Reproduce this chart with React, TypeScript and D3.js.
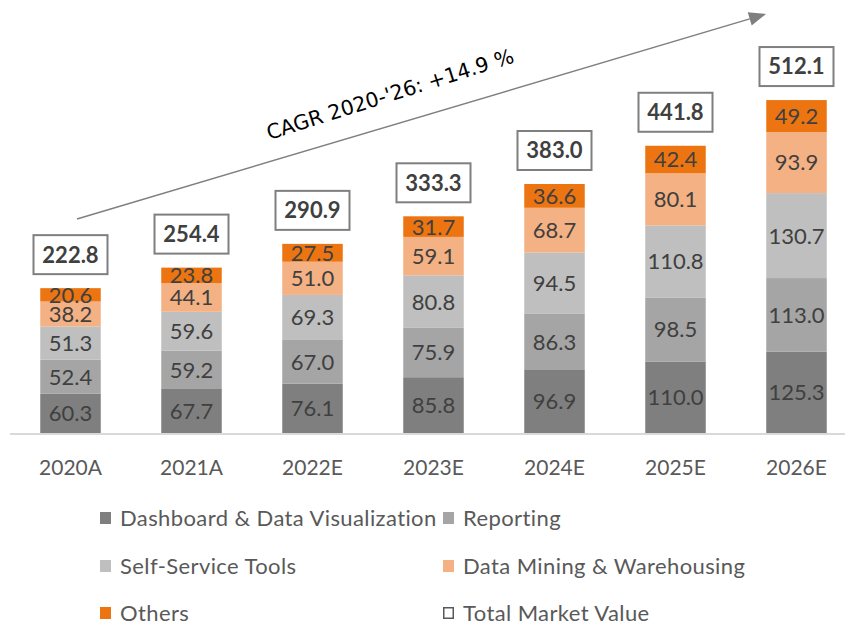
import React from 'react'
import * as d3 from 'd3'

const years = ['2020A', '2021A', '2022E', '2023E', '2024E', '2025E', '2026E']
const dashboard = [60.3, 67.7, 76.1, 85.8, 96.9, 110.0, 125.3]
const reporting = [52.4, 59.2, 67.0, 75.9, 86.3, 98.5, 113.0]
const selfService = [51.3, 59.6, 69.3, 80.8, 94.5, 110.8, 130.7]
const dataMining = [38.2, 44.1, 51.0, 59.1, 68.7, 80.1, 93.9]
const others = [20.6, 23.8, 27.5, 31.7, 36.6, 42.4, 49.2]
const totals = [222.8, 254.4, 290.9, 333.3, 383.0, 441.8, 512.1]
const cagrLabel = "CAGR 2020-'26: +14.9 %"

const seriesNames = [
  'Dashboard & Data Visualization',
  'Reporting',
  'Self-Service Tools',
  'Data Mining & Warehousing',
  'Others',
]
const colors = ['#7f7f7f', '#a5a5a5', '#bfbfbf', '#f4b183', '#ed7511']

const W = 851
const H = 625
const baseY = 433
const font = 'Lato, "Noto Sans", sans-serif'

export default function App() {
  const rows = years.map((y, i) => ({
    year: y,
    s0: dashboard[i],
    s1: reporting[i],
    s2: selfService[i],
    s3: dataMining[i],
    s4: others[i],
  }))
  const keys = ['s0', 's1', 's2', 's3', 's4']
  const stacked = d3.stack<any>().keys(keys)(rows)

  const x = d3.scaleBand().domain(years).range([10, 857]).paddingInner(0.5).paddingOuter(0.25)
  const y = d3.scaleLinear().domain([0, 666]).range([baseY, 0])
  const bw = x.bandwidth()

  // arrow for CAGR
  const ax0 = 77, ay0 = 219, ax1 = 766, ay1 = 14
  const ang = Math.atan2(ay1 - ay0, ax1 - ax0)
  const head = 17
  const hw = 7
  const bx = ax1 - head * Math.cos(ang)
  const by = ay1 - head * Math.sin(ang)
  const px = -Math.sin(ang) * hw
  const py = Math.cos(ang) * hw

  const legend = [
    { name: seriesNames[0], color: colors[0], col: 0, row: 0 },
    { name: seriesNames[1], color: colors[1], col: 1, row: 0 },
    { name: seriesNames[2], color: colors[2], col: 0, row: 1 },
    { name: seriesNames[3], color: colors[3], col: 1, row: 1 },
    { name: seriesNames[4], color: colors[4], col: 0, row: 2 },
    { name: 'Total Market Value', color: 'none', col: 1, row: 2 },
  ]
  const legendX = [100, 443]
  const legendY = [518, 566, 613]

  return (
    <svg width={W} height={H} style={{ position: 'absolute', left: 0, top: 0, background: '#fff' }}>
      {stacked.map((layer, li) => (
        <g key={li}>
          {layer.map((d, i) => {
            const top = y(d[1])
            const bot = y(d[0])
            return (
              <g key={i}>
                <rect x={x(years[i])} y={top} width={bw} height={bot - top} fill={colors[li]} />
                <text
                  x={(x(years[i]) as number) + bw / 2}
                  y={(top + bot) / 2}
                  dy="0.36em"
                  textAnchor="middle"
                  fontFamily={font}
                  fontSize={22}
                  fill="#404040"
                >
                  {(d[1] - d[0]).toFixed(1)}
                </text>
              </g>
            )
          })}
        </g>
      ))}

      {/* totals */}
      {totals.map((t, i) => {
        const cx = (x(years[i]) as number) + bw / 2
        const top = y(t)
        return (
          <g key={'t' + i}>
            <rect x={cx - 37} y={top - 53} width={74} height={39} fill="#fff" stroke="#7f7f7f" strokeWidth={2} />
            <text x={cx} y={top - 33.5} dy="0.36em" textAnchor="middle" fontFamily={font} fontWeight="bold" fontSize={22} fill="#404040">
              {t.toFixed(1)}
            </text>
          </g>
        )
      })}

      {/* axis */}
      <line x1={10} x2={845} y1={baseY + 1} y2={baseY + 1} stroke="#d9d9d9" strokeWidth={2} />
      {years.map((yr) => (
        <text
          key={yr}
          x={(x(yr) as number) + bw / 2}
          y={467}
          dy="0.36em"
          textAnchor="middle"
          fontFamily={font}
          fontSize={21}
          fill="#595959"
        >
          {yr}
        </text>
      ))}

      {/* CAGR arrow */}
      <line x1={ax0} y1={ay0} x2={bx} y2={by} stroke="#7f7f7f" strokeWidth={1.5} />
      <path d={`M${ax1},${ay1}L${bx + px},${by + py}L${bx - px},${by - py}Z`} fill="#7f7f7f" />
      <text
        transform={`translate(390,94) rotate(${(ang * 180) / Math.PI - 1})`}
        textAnchor="middle"
        dy="0.36em"
        fontFamily='"DejaVu Sans", sans-serif'
        fontSize={20.5}
        fill="#000"
      >
        {cagrLabel}
      </text>

      {/* legend */}
      {legend.map((l, i) => (
        <g key={'l' + i}>
          {l.color === 'none' ? (
            <rect x={legendX[l.col] + 0.75} y={legendY[l.row] - 5.25} width={9.5} height={10.5} fill="#fff" stroke="#595959" strokeWidth={1.5} />
          ) : (
            <rect x={legendX[l.col]} y={legendY[l.row] - 6} width={11} height={12} fill={l.color} />
          )}
          <text x={legendX[l.col] + 20} y={legendY[l.row]} dy="0.36em" fontFamily={font} fontSize={22} letterSpacing={0.4} fill="#595959">
            {l.name}
          </text>
        </g>
      ))}
    </svg>
  )
}
